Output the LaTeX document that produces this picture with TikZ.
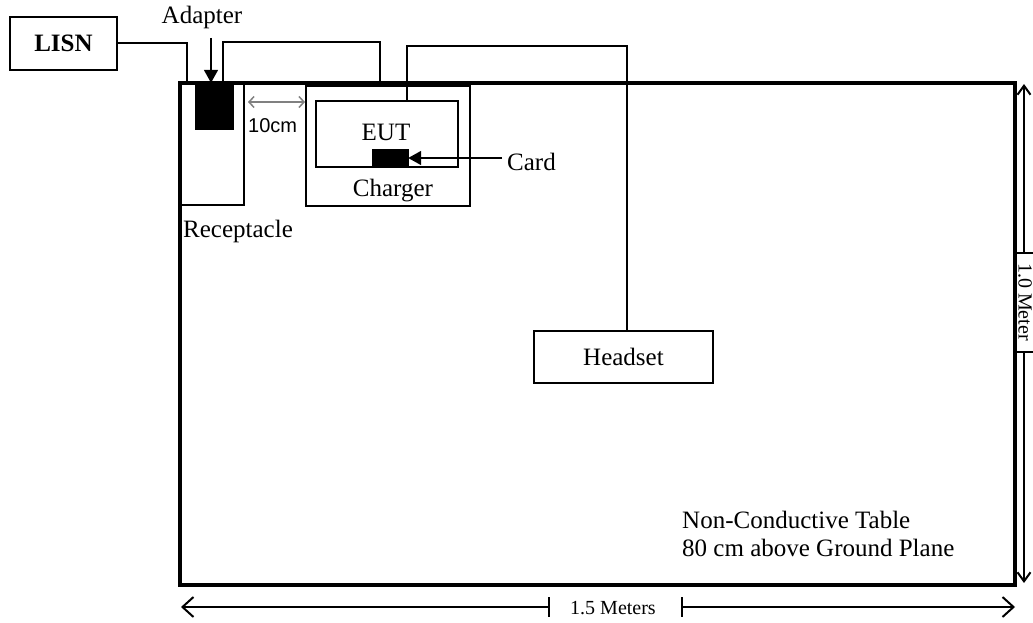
\documentclass[tikz,border=0pt]{standalone}
\usepackage{fontspec}
\setmainfont{Liberation Serif}
\newfontfamily\arialfont{Liberation Sans}
\usetikzlibrary{arrows.meta,positioning,calc}

\begin{document}
\begin{tikzpicture}[
    x=1pt, y=-1pt,
    font=\fontsize{25}{28}\selectfont,
    box/.style={draw=black, line width=2pt, inner sep=0pt},
    blackbox/.style={fill=black, draw=black, inner sep=0pt},
    label/.style={inner sep=0pt},
    smalltext/.style={font=\fontsize{20}{22}\selectfont},
    wire/.style={line width=2pt},
    pointer/.style={-{Triangle[length=13pt,width=14pt]}, line width=1.8pt},
    gap/.style={{Straight Barb[length=5pt,width=11pt]}-{Straight Barb[length=5pt,width=11pt]}, gray, line width=1.5pt},
    dimwide/.style={-{Straight Barb[length=11pt,width=20pt,line width=2pt]}, line width=1.5pt},
    dimhigh/.style={-{Straight Barb[length=9pt,width=13pt,line width=2pt]}, line width=1.5pt}
]
\useasboundingbox (0,0) rectangle (1033,623);

% table and equipment
\node[box, line width=3.5pt, minimum width=835pt, minimum height=502pt] (table) at (597.5,334) {};
\node[box, minimum width=107pt, minimum height=53pt, font=\bfseries\fontsize{25}{28}\selectfont] (LISN) at (63.5,43.5) {LISN};
\node[box, minimum width=64pt, minimum height=122pt] (receptacle) at (212,144) {};
\node[blackbox, minimum width=38pt, minimum height=46pt] (adapter) at (214,106) {};
\node[box, minimum width=164pt, minimum height=120pt] (charger) at (388,146) {};
\node[box, minimum width=142pt, minimum height=66pt] (EUT) at (387,134) {};
\node[blackbox, minimum width=36pt, minimum height=18pt] (card) at (390,158) {};
\node[box, minimum width=179pt, minimum height=52pt] (headset) at (623.5,357) {Headset};

% labels
\node[anchor=base] (adapterlbl) at (202,24) {Adapter};
\node[anchor=base] (EUTlbl) at (386,140) {EUT};
\node[anchor=base] (chargerlbl) at (393,196) {Charger};
\node[anchor=base west, label] (cardlbl) at (507,170) {Card};
\node[anchor=base west, label] (receptaclelbl) at (183,237) {Receptacle};
\node[anchor=base west, label, font=\arialfont\fontsize{20}{22}\selectfont] (gaplbl) at (248,133) {10cm};
\node[anchor=base west, label] (tablelblA) at (682,528) {Non-Conductive Table};
\node[anchor=base west, label] (tablelblB) at (682,556) {80 cm above Ground Plane};

% cables
\coordinate (plugL) at (187,83);
\coordinate (plugR) at (223,83);
\coordinate (chargerin) at (380,83);
\draw[wire] (LISN.east) -| (plugL);
\draw[wire] (plugR) -- ++(0,-41) -| (chargerin);
\draw[wire] ([xshift=20pt]EUT.north) |- (627,46) -| ([xshift=3.5pt]headset.north);

% pointers
\draw[pointer] ([xshift=-3pt,yshift=45pt]adapter.north) -- ([xshift=-3pt]adapter.north);
\draw[pointer] ([xshift=-5pt]card.east -| cardlbl.west) -- (card.east);
\coordinate (gapL) at (248,102);
\coordinate (gapR) at (305,102);
\draw[gap] (gapL) -- (gapR);

% width dimension
\node[anchor=base, smalltext] (widthlbl) at (613,614) {1.5 Meters};
\coordinate (wtickL) at (549,607);
\coordinate (wtickR) at (682,607);
\coordinate (wendL) at (181,607);
\coordinate (wendR) at (1015,607);
\draw[line width=1.5pt] ([yshift=10pt]wtickL) -- ([yshift=-10pt]wtickL);
\draw[line width=1.5pt] ([yshift=10pt]wtickR) -- ([yshift=-10pt]wtickR);
\draw[dimwide] (wtickL) -- (wendL);
\draw[dimwide] (wtickR) -- (wendR);

% depth dimension
\node[rotate=-90, smalltext, inner sep=1pt] (depthlbl) at (1025,302) {1.0 Meter};
\coordinate (dtickT) at (1024,253);
\coordinate (dtickB) at (1024,352);
\coordinate (dendT) at (1024,84);
\coordinate (dendB) at (1024,583);
\draw[line width=1.5pt] ([xshift=-9pt]dtickT) -- ([xshift=9pt]dtickT);
\draw[line width=1.5pt] ([xshift=-9pt]dtickB) -- ([xshift=9pt]dtickB);
\draw[dimhigh] (dtickT) -- (dendT);
\draw[dimhigh] (dtickB) -- (dendB);
\end{tikzpicture}
\end{document}
